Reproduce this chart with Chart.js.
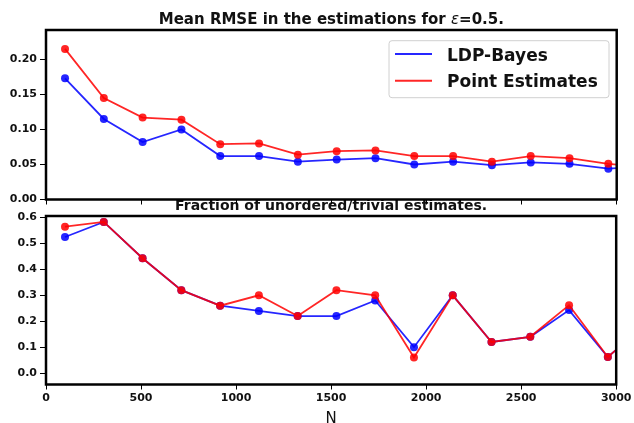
<!DOCTYPE html>
<html>
<head>
<meta charset="utf-8">
<script src="https://cdn.jsdelivr.net/npm/chart.js@4/dist/chart.umd.min.js"></script>
<style>
  html, body { margin: 0; padding: 0; background: #fff; }
  #wrap { position: relative; width: 634px; height: 423px; overflow: hidden; }
  canvas { position: absolute; left: 0; top: 0; }
  #cBottom { z-index: 1; }
  #cTop { z-index: 2; }
</style>
</head>
<body>
<div id="wrap">
  <canvas id="cBottom" width="634" height="423"></canvas>
  <canvas id="cTop" width="634" height="423"></canvas>
</div>
<script>
// ---- data ----
const nValues   = [100, 304, 508, 712, 916, 1120, 1324, 1528, 1732, 1936, 2140, 2344, 2548, 2752, 2956, 3160];
const rmseBayes = [0.173, 0.115, 0.082, 0.100, 0.062, 0.062, 0.054, 0.057, 0.059, 0.050, 0.054, 0.049, 0.053, 0.051, 0.044, 0.047];
const rmsePoint = [0.215, 0.145, 0.117, 0.114, 0.079, 0.080, 0.064, 0.069, 0.070, 0.062, 0.062, 0.054, 0.062, 0.059, 0.051, 0.046];
const fracBayes = [0.525, 0.583, 0.443, 0.320, 0.260, 0.240, 0.220, 0.220, 0.280, 0.100, 0.300, 0.120, 0.140, 0.243, 0.062, 0.190];
const fracPoint = [0.565, 0.583, 0.443, 0.320, 0.260, 0.300, 0.220, 0.320, 0.300, 0.060, 0.300, 0.120, 0.140, 0.262, 0.062, 0.190];

const xTickValues    = [0, 500, 1000, 1500, 2000, 2500, 3000];
const rmseTickValues = [0.00, 0.05, 0.10, 0.15, 0.20];
const fracTickValues = [0.0, 0.1, 0.2, 0.3, 0.4, 0.5, 0.6];

const seriesNames = ['LDP-Bayes', 'Point Estimates'];
const topTitleParts = ['Mean RMSE in the estimations for ', 'ε', '=0.5.'];
const bottomTitle = 'Fraction of unordered/trivial estimates.';
const xTitle = 'N';

// ---- styling ----
const BLUE = 'rgba(0,0,255,0.85)';
const RED  = 'rgba(255,0,0,0.85)';
const FONT = '"DejaVu Sans", "Liberation Sans", sans-serif';

function pts(ys) { return nValues.map((x, i) => ({ x: x, y: ys[i] })); }

function ds(label, ys, color, order) {
  return {
    label: label, data: pts(ys), borderColor: color, backgroundColor: color,
    pointBackgroundColor: color, pointBorderWidth: 0, pointRadius: 4,
    borderWidth: 1.8, tension: 0, clip: 0, order: order
  };
}

function tickSetter(arr) {
  return function (scale) { scale.ticks = arr.map(v => ({ value: v })); };
}

const framePlugin = {
  id: 'frame',
  afterDatasetsDraw(chart) {
    const a = chart.chartArea, c = chart.ctx;
    c.save();
    c.strokeStyle = '#000';
    c.lineWidth = 2.5;
    c.strokeRect(a.left, a.top, a.right - a.left, a.bottom - a.top);
    c.restore();
  }
};

function baseScales(xTicksShow, yTicks, yMin, yMax, yDec, xHeight) {
  return {
    x: {
      type: 'linear', min: 0, max: 3000,
      afterBuildTicks: tickSetter(xTickValues),
      afterFit(s) { s.height = xHeight; },
      grid: { display: true, drawOnChartArea: false, drawTicks: true, tickLength: 5, color: '#000', lineWidth: 1 },
      border: { display: false },
      ticks: {
        display: xTicksShow, padding: 2.5, color: '#111', maxRotation: 0, autoSkip: false,
        font: { family: FONT, size: 11, weight: 'bold' },
        callback: v => String(v)
      }
    },
    y: {
      type: 'linear', min: yMin, max: yMax,
      afterBuildTicks: tickSetter(yTicks),
      afterFit(s) { s.width = 46; },
      grid: { display: true, drawOnChartArea: false, drawTicks: true, tickLength: 6, color: '#000', lineWidth: 1 },
      border: { display: false },
      ticks: {
        padding: 3, color: '#111', autoSkip: false,
        font: { family: FONT, size: 11, weight: 'bold' },
        callback: v => Number(v).toFixed(yDec)
      }
    }
  };
}

// ---- bottom chart ----
const bottomDecor = {
  id: 'bottomDecor',
  beforeDraw(chart) {
    const c = chart.ctx;
    c.save();
    c.fillStyle = '#fff';
    c.fillRect(0, 0, chart.width, chart.height);
    c.restore();
  },
  afterDraw(chart) {
    const c = chart.ctx, a = chart.chartArea;
    const cx = (a.left + a.right) / 2;
    c.save();
    c.fillStyle = '#111';
    c.textAlign = 'center';
    c.textBaseline = 'alphabetic';
    c.font = 'bold 14px ' + FONT;
    c.fillText(bottomTitle, cx, 209.5);
    c.font = '15px ' + FONT;
    c.fillText(xTitle, cx, 422.5);
    c.restore();
  }
};

new Chart(document.getElementById('cBottom'), {
  type: 'line',
  data: { datasets: [ds(seriesNames[0], fracBayes, BLUE, 2), ds(seriesNames[1], fracPoint, RED, 1)] },
  options: {
    responsive: false, animation: false, devicePixelRatio: 1,
    layout: { padding: { left: 0, right: 17.3, top: 216, bottom: 0 }, autoPadding: false },
    plugins: { legend: { display: false }, title: { display: false }, tooltip: { enabled: false } },
    scales: baseScales(true, fracTickValues, -0.044, 0.606, 1, 38.5)
  },
  plugins: [bottomDecor, framePlugin]
});

// ---- top chart ----
const topDecor = {
  id: 'topDecor',
  beforeDraw(chart) {
    const c = chart.ctx, a = chart.chartArea;
    c.save();
    c.fillStyle = '#fff';
    c.fillRect(0, 0, chart.width, a.bottom);
    c.restore();
  },
  afterDraw(chart) {
    const c = chart.ctx, a = chart.chartArea;
    const cx = (a.left + a.right) / 2;
    c.save();
    // title with italic epsilon
    const fonts = ['bold 15px ' + FONT, 'italic 15px ' + FONT, 'bold 15px ' + FONT];
    let widths = topTitleParts.map((t, i) => { c.font = fonts[i]; return c.measureText(t).width; });
    let total = widths.reduce((p, q) => p + q, 0);
    let x = cx - total / 2;
    c.fillStyle = '#111';
    c.textAlign = 'left';
    c.textBaseline = 'alphabetic';
    topTitleParts.forEach((t, i) => { c.font = fonts[i]; c.fillText(t, x, 24.3); x += widths[i]; });

    // legend
    const lx = 389, ly = 40.7, lw = 220, lh = 57;
    c.beginPath();
    if (c.roundRect) c.roundRect(lx, ly, lw, lh, 3); else c.rect(lx, ly, lw, lh);
    c.fillStyle = 'rgba(255,255,255,0.8)';
    c.fill();
    c.strokeStyle = '#d0d0d0';
    c.lineWidth = 1;
    c.stroke();
    const colors = [BLUE, RED];
    const lineYs = [54, 80.7];
    const textYs = [61, 87];
    c.font = 'bold 17px ' + FONT;
    seriesNames.forEach((name, i) => {
      c.beginPath();
      c.moveTo(395, lineYs[i]);
      c.lineTo(432, lineYs[i]);
      c.strokeStyle = colors[i];
      c.lineWidth = 2;
      c.stroke();
      c.fillStyle = '#111';
      c.fillText(name, 447, textYs[i]);
    });
    c.restore();
  }
};

new Chart(document.getElementById('cTop'), {
  type: 'line',
  data: { datasets: [ds(seriesNames[0], rmseBayes, BLUE, 2), ds(seriesNames[1], rmsePoint, RED, 1)] },
  options: {
    responsive: false, animation: false, devicePixelRatio: 1,
    layout: { padding: { left: 0, right: 17.3, top: 30, bottom: 213.5 }, autoPadding: false },
    plugins: { legend: { display: false }, title: { display: false }, tooltip: { enabled: false } },
    scales: baseScales(false, rmseTickValues, 0, 0.242, 2, 10)
  },
  plugins: [topDecor, framePlugin]
});
</script>
</body>
</html>
